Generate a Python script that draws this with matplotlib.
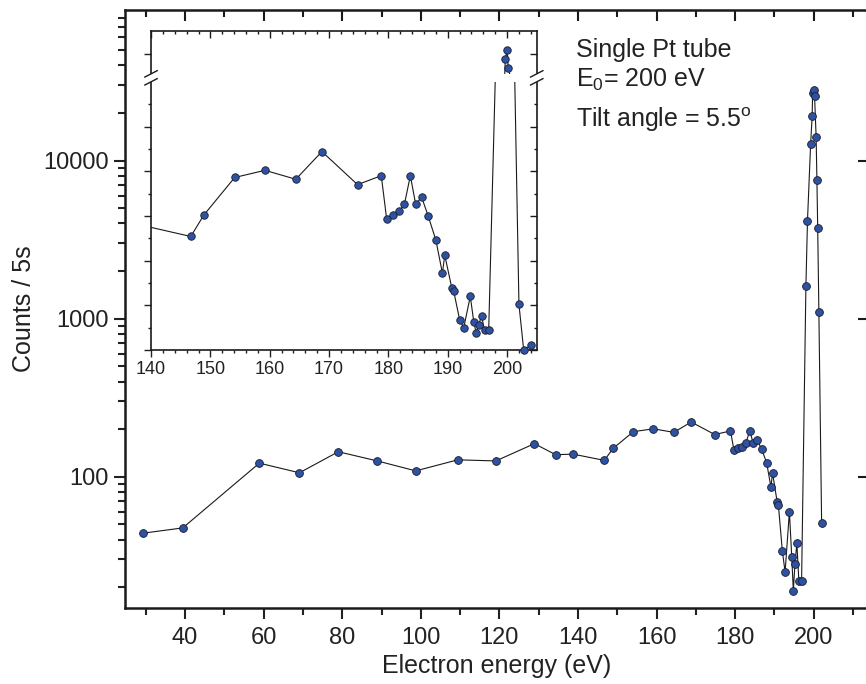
import numpy as np
import matplotlib
matplotlib.use('Agg')
import matplotlib.pyplot as plt
from matplotlib.ticker import FixedLocator, LogLocator, NullLocator, NullFormatter
from matplotlib.patches import Rectangle

plt.rcParams['font.family'] = ['Liberation Sans', 'DejaVu Sans']
plt.rcParams['mathtext.default'] = 'regular'

## data
energy = [29.3, 39.4, 58.9, 69.1, 79.0, 88.9, 98.7, 109.4, 119.1, 128.9,
          134.3, 138.8, 146.7, 148.9, 154.1, 159.2, 164.4, 168.8, 174.8, 178.8,
          179.7, 180.7, 181.8, 182.7, 183.7, 184.6, 185.6, 186.7, 188.0, 189.1,
          189.5, 190.7, 191.0, 192.0, 192.7, 193.8, 194.4, 194.8, 195.2, 195.7,
          196.2, 196.9, 198.0, 198.4, 199.2, 199.6, 199.7, 200.0, 200.2, 200.6,
          200.8, 201.0, 201.3, 202.0, 202.8, 204.1]
counts = [44, 47.5, 122, 106, 144, 126, 109, 128, 126, 162,
          138, 139, 127, 151, 193, 201, 191, 222, 185, 195,
          147, 151, 155, 163, 195, 163, 171, 150, 123, 86,
          106, 69, 66, 34, 25, 60, 31, 19, 28, 38,
          22, 22, 1610, 4160, 12700, 19200, 26900, 28000, 25700, 14060,
          7580, 3740, 1107, 51, 0, 5.6]

xticks_main = [40, 60, 80, 100, 120, 140, 160, 180, 200]
yticks_main = [100, 1000, 10000]
ytick_labels = ['100', '1000', '10000']
xticks_inset = [140, 150, 160, 170, 180, 190, 200]

# inset y axis: linear with a break, 0..300 below, 25000..30400 above
brk_v = [0, 300, 25000, 30400]
brk_s = [0, 269, 277, 320]
fwd = lambda v: np.interp(v, brk_v, brk_s)
inv = lambda s: np.interp(s, brk_s, brk_v)

mfc = '#2d51a3'
mec = '#1c1c28'
txt = '#222222'

##
fig = plt.figure(figsize=(8.66, 6.84), dpi=100)
ax = fig.add_axes([0.1443, 0.1111, 0.8580, 0.8743])

ax.plot(energy, counts, '-', color='#1a1a1a', lw=0.8, zorder=2)
ax.plot(energy, counts, 'o', ms=5.6, mfc=mfc, mec=mec, mew=0.6, zorder=3)
ax.set_yscale('log', nonpositive='mask')
ax.set_xlim(24.7, 213.8)
ax.set_ylim(14.8, 89500)

ax.set_xticks(xticks_main)
ax.xaxis.set_minor_locator(FixedLocator(np.arange(30, 211, 20)))
ax.set_yticks(yticks_main, labels=ytick_labels)
ax.yaxis.set_minor_locator(LogLocator(base=10, subs=np.arange(2, 10), numticks=20))
ax.yaxis.set_minor_formatter(NullFormatter())
ax.tick_params(which='both', direction='out', width=1.5, labelsize=17, colors=txt)
ax.tick_params(which='major', length=8)
ax.tick_params(which='minor', length=5)
ax.tick_params(axis='x', pad=6)
for s in ax.spines.values():
    s.set_linewidth(1.8)
    s.set_color('#1a1a1a')

ax.set_xlabel('Electron energy (eV)', fontsize=18, color=txt, labelpad=3)
ax.set_ylabel('Counts / 5s', fontsize=18, color=txt, labelpad=5)

# mirror ticks pointing inward on top / right
axt = ax.twiny()
axt.set_xlim(ax.get_xlim())
axt.set_xticks(xticks_main, labels=[])
axt.xaxis.set_minor_locator(FixedLocator(np.arange(30, 211, 20)))
axt.tick_params(which='both', direction='in', width=1.5, colors='#1a1a1a')
axt.tick_params(which='major', length=8)
axt.tick_params(which='minor', length=5)
axr = ax.twinx()
axr.set_yscale('log')
axr.set_ylim(ax.get_ylim())
axr.set_yticks(yticks_main, labels=[])
axr.yaxis.set_minor_locator(NullLocator())
axr.tick_params(which='both', direction='in', width=1.5, length=7, colors='#1a1a1a')
for a in (axt, axr):
    for s in a.spines.values():
        s.set_visible(False)

fig.text(576 / 866, 1 - 57 / 684, 'Single Pt tube', fontsize=18, va='baseline', color=txt)
fig.text(576 / 866, 1 - 87 / 684, r'E$_{\mathregular{0}}$= 200 eV', fontsize=18, va='baseline', color=txt)
fig.text(576 / 866, 1 - 127 / 684, r'Tilt angle = 5.5$^{\mathregular{o}}$', fontsize=18, va='baseline', color=txt)

## inset
axi = fig.add_axes([0.1744, 0.4883, 0.4454, 0.4664])
axi.set_yscale('function', functions=(fwd, inv))
axi.plot(energy, counts, '-', color='#1a1a1a', lw=0.8, zorder=2)
e_arr = np.array(energy)
c_arr = np.array(counts)
keep = (e_arr >= 140) & (e_arr <= 205) & ((c_arr <= 300) | (c_arr >= 25000))
axi.plot(e_arr[keep], c_arr[keep], 'o', ms=5.4, mfc=mfc, mec=mec, mew=0.6, zorder=3, clip_on=False)
axi.set_xlim(140, 205)
axi.set_ylim(0, 30400)

iy_major = [0, 50, 100, 150, 200, 250, 27500]
iy_minor = [25, 75, 125, 175, 225, 275]
axi.set_xticks(xticks_inset)
axi.xaxis.set_minor_locator(FixedLocator(np.arange(142, 205, 2)))
axi.yaxis.set_major_locator(FixedLocator(iy_major))
axi.yaxis.set_minor_locator(FixedLocator(iy_minor))
axi.set_yticklabels([])
axi.tick_params(which='both', direction='out', width=1.0, labelsize=13, colors=txt)
axi.tick_params(which='major', length=5)
axi.tick_params(which='minor', length=2.5)
axi.tick_params(axis='x', pad=3)
for s in axi.spines.values():
    s.set_linewidth(1.2)
    s.set_color('#1a1a1a')

ait = axi.twiny()
ait.set_xlim(axi.get_xlim())
ait.set_xticks(xticks_inset, labels=[])
ait.xaxis.set_minor_locator(FixedLocator(np.arange(142, 205, 2)))
air = axi.twinx()
air.set_yscale('function', functions=(fwd, inv))
air.set_ylim(axi.get_ylim())
air.yaxis.set_major_locator(FixedLocator(iy_major))
air.yaxis.set_minor_locator(FixedLocator(iy_minor))
air.set_yticklabels([])
for a in (ait, air):
    a.tick_params(which='both', direction='in', width=1.0, colors='#1a1a1a')
    a.tick_params(which='major', length=5)
    a.tick_params(which='minor', length=2.5)
    for s in a.spines.values():
        s.set_visible(False)

# axis break
b0 = brk_s[1] / brk_s[-1]
b1 = brk_s[2] / brk_s[-1]
axi.add_patch(Rectangle((-0.04, b0), 1.08, b1 - b0, transform=axi.transAxes,
                        facecolor='white', edgecolor='none', clip_on=False, zorder=5))
dx, dy = 0.016, 0.010
for xc in (0, 1):
    for yb in (b0, b1):
        axi.plot([xc - dx, xc + dx], [yb - dy, yb + dy], color='#1a1a1a', lw=1.0,
                 transform=axi.transAxes, clip_on=False, zorder=6)

fig.savefig('out.png', dpi=100)
